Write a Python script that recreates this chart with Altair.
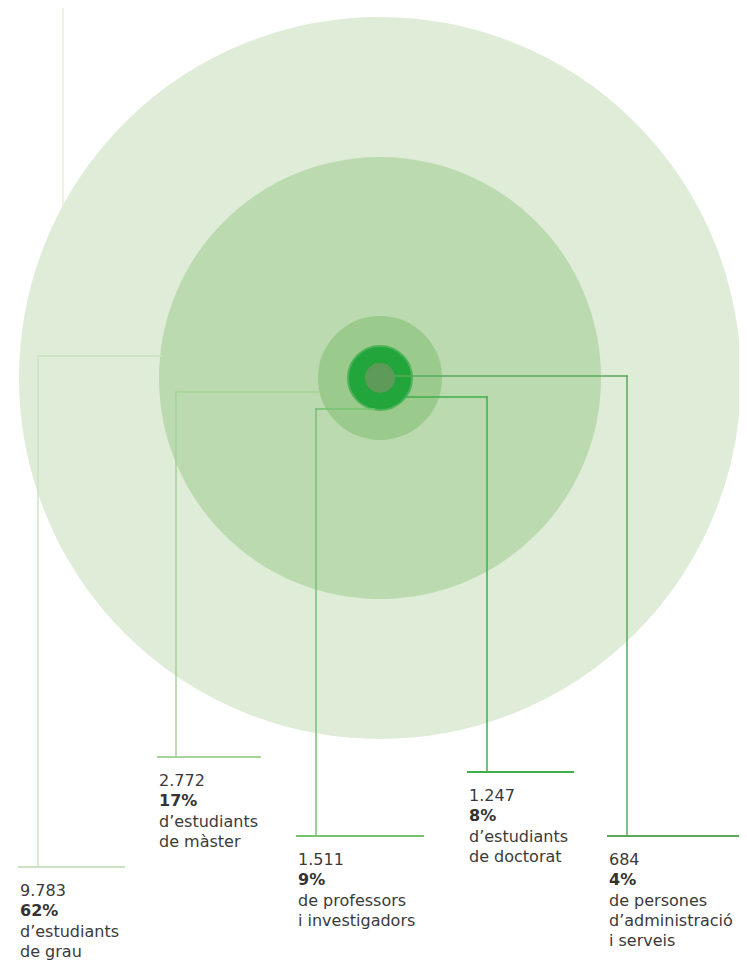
import altair as alt
import pandas as pd

# ---- data ----
categories = ["grau", "màster", "professors", "doctorat", "pas"]
counts = ["9.783", "2.772", "1.511", "1.247", "684"]
percents = ["62%", "17%", "9%", "8%", "4%"]
descriptions = [
    ["d’estudiants", "de grau"],
    ["d’estudiants", "de màster"],
    ["de professors", "i investigadors"],
    ["d’estudiants", "de doctorat"],
    ["de persones", "d’administració", "i serveis"],
]

# ---- layout (pixel space of the page) ----
W, H = 731, 954
CX, CY = 380, 378
ring_radius = [360, 220, 61, 32, 14]
ring_color = ["#dfecd8", "#bbdab0", "#9bca8d", "#22a53a", "#5e9a58"]
ring_stroke = ["#dfecd8", "#bbdab0", "#9bca8d", "#4db35a", "#5e9a58"]

lead_y = [356, 392, 409, 397, 376]
lead_x0 = [161, 320, 374, 406, 394]
elbow_x = [38, 176, 316, 487, 627]
bar_y = [867, 757, 836, 772, 836]
bar_x1 = [19, 158, 297, 468, 608]
bar_x2 = [124, 260, 423, 573, 739]
lead_color = ["#cbe3c2", "#a6d399", "#75c273", "#3fae4b", "#5aa95c"]

xs = alt.Scale(domain=[8, 8 + W], nice=False, zero=False)
ys = alt.Scale(domain=[8 + H, 8], nice=False, zero=False)

rings = pd.DataFrame({
    "x": [CX] * 5, "y": [CY] * 5,
    "size": [4 * r * r for r in ring_radius],
    "color": ring_color, "stroke": ring_stroke,
})

segs = []
for i in range(5):
    segs.append(dict(x=lead_x0[i], x2=elbow_x[i], y=lead_y[i], y2=lead_y[i], c=lead_color[i], w=1.5))
    segs.append(dict(x=elbow_x[i], x2=elbow_x[i], y=lead_y[i], y2=bar_y[i], c=lead_color[i], w=1.5))
    segs.append(dict(x=bar_x1[i], x2=bar_x2[i], y=bar_y[i], y2=bar_y[i], c=lead_color[i], w=2))
segs = pd.DataFrame(segs)

top_line = pd.DataFrame({"x": [63], "x2": [63], "y": [6], "y2": [210]})

rows = []
for i in range(5):
    lines = [(counts[i], "normal"), (percents[i], "bold")] + [(d, "normal") for d in descriptions[i]]
    for j, (t, wgt) in enumerate(lines):
        rows.append(dict(x=bar_x1[i] + 1, y=bar_y[i] + 29 + 20.3 * j, t=t, wgt=wgt))
texts = pd.DataFrame(rows)

X = lambda f: alt.X(f, scale=xs, axis=None)
Y = lambda f: alt.Y(f, scale=ys, axis=None)

top = alt.Chart(top_line).mark_rule(color="#e6f1e1", strokeWidth=1.5).encode(
    x=X("x:Q"), x2="x2:Q", y=Y("y:Q"), y2="y2:Q")

circles = alt.Chart(rings).mark_circle(opacity=1, strokeWidth=2).encode(
    x=X("x:Q"), y=Y("y:Q"),
    size=alt.Size("size:Q", scale=None),
    color=alt.Color("color:N", scale=None),
    stroke=alt.Stroke("stroke:N", scale=None),
)

lines = alt.Chart(segs).mark_rule(strokeCap="square").encode(
    x=X("x:Q"), x2="x2:Q", y=Y("y:Q"), y2="y2:Q",
    color=alt.Color("c:N", scale=None),
    strokeWidth=alt.StrokeWidth("w:Q", scale=None),
)

txt_norm = alt.Chart(texts).transform_filter(alt.datum.wgt == "normal").mark_text(
    align="left", baseline="alphabetic", font="DejaVu Sans", fontSize=16, color="#3a3a3a"
).encode(x=X("x:Q"), y=Y("y:Q"), text="t:N")

txt_bold = alt.Chart(texts).transform_filter(alt.datum.wgt == "bold").mark_text(
    align="left", baseline="alphabetic", font="DejaVu Sans", fontSize=16, fontWeight="bold", color="#333333"
).encode(x=X("x:Q"), y=Y("y:Q"), text="t:N")

chart = alt.layer(top, circles, lines, txt_norm, txt_bold).properties(
    width=W, height=H, padding=0, autosize=alt.AutoSizeParams(type="none")
).configure_view(stroke=None)

chart.save("out.html", embed_options={"renderer": "svg", "actions": False})
